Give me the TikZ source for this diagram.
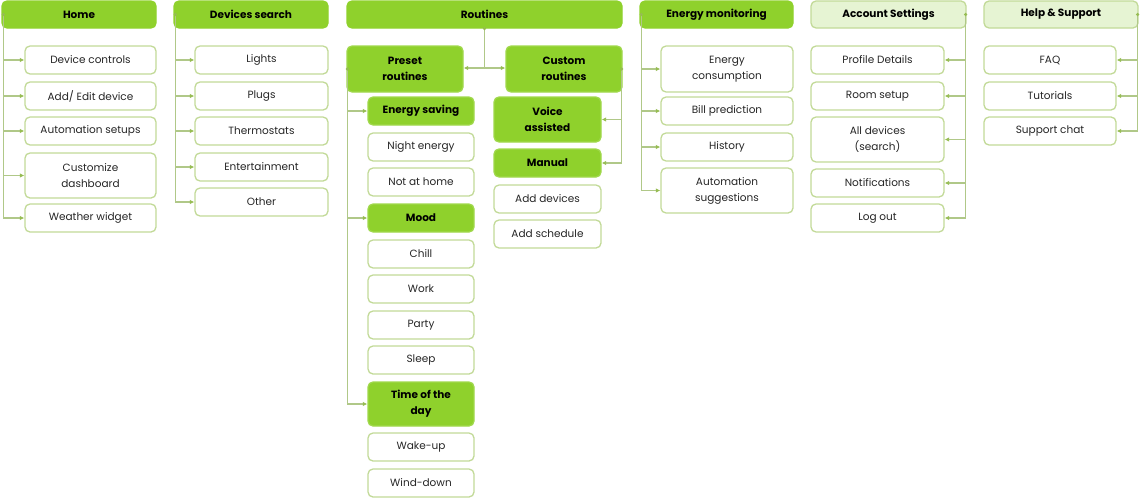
\documentclass[tikz,border=0pt]{standalone}
\usepackage{fontspec}
\setmainfont{Poppins}
\usetikzlibrary{arrows.meta}
\definecolor{lime}{HTML}{8FD12C}
\definecolor{conn}{HTML}{B0C888}
\definecolor{tipc}{HTML}{96BC52}
\definecolor{bord}{HTML}{C2DA98}
\definecolor{lfill}{HTML}{E6F4D3}
\definecolor{txt}{HTML}{262626}
\tikzset{
  base/.style={rounded corners=5pt, inner sep=0pt, align=center, line width=1.3pt, text=txt,
    font=\fontsize{10.5}{16}\selectfont},
  hdr/.style={base, fill=lime, draw=lime, text=black, font=\fontsize{10.5}{16}\selectfont\bfseries, minimum height=27pt},
  lhdr/.style={base, fill=lfill, draw=bord, text=black, font=\fontsize{10.5}{16}\selectfont\bfseries, minimum height=27pt},
  gbox/.style={base, fill=lime, draw=lime!85!white, text=black, font=\fontsize{10.5}{16}\selectfont\bfseries},
  wbox/.style={base, fill=white, draw=bord},
  one/.style={minimum height=28pt},
  two/.style={minimum height=45pt},
  conn/.style={draw=conn, line width=1.4pt},
  arr/.style={conn, -{Latex[length=4.5pt,width=4.5pt,color=tipc]}},
  dot/.style={fill=tipc},
}
\begin{document}
\begin{tikzpicture}[x=1pt,y=-1pt]
\useasboundingbox (0,0) rectangle (1140,498);

% ---------- Home ----------
\node[hdr, minimum width=154pt] (home) at (79,14.5) {Home};
\node[wbox, one, minimum width=131pt] (h1) at (90.5,60) {Device controls};
\node[wbox, one, minimum width=131pt] (h2) at (90.5,96) {Add/ Edit device};
\node[wbox, one, minimum width=131pt] (h3) at (90.5,131) {Automation setups};
\node[wbox, two, minimum width=131pt] (h4) at (90.5,175.5) {Customize\\dashboard};
\node[wbox, one, minimum width=131pt] (h5) at (90.5,218) {Weather widget};
\coordinate (hs) at ([xshift=2pt]home.west);
\foreach \n in {h1,h2,h3,h4,h5} \draw[arr] (hs) |- (\n.west);
\fill[dot] (hs) circle (1.8pt);

% ---------- Devices search ----------
\node[hdr, minimum width=154pt] (dev) at (251,14.5) {Devices search};
\node[wbox, one, minimum width=133pt] (d1) at (261.5,60) {Lights};
\node[wbox, one, minimum width=133pt] (d2) at (261.5,96) {Plugs};
\node[wbox, one, minimum width=133pt] (d3) at (261.5,131) {Thermostats};
\node[wbox, one, minimum width=133pt] (d4) at (261.5,167) {Entertainment};
\node[wbox, one, minimum width=133pt] (d5) at (261.5,202) {Other};
\coordinate (ds) at ([xshift=2pt]dev.west);
\foreach \n in {d1,d2,d3,d4,d5} \draw[arr] (ds) |- (\n.west);
\fill[dot] (ds) circle (1.8pt);

% ---------- Routines ----------
\node[hdr, minimum width=275pt] (rout) at (484.5,14.5) {Routines};
\node[gbox, two, minimum width=116pt, minimum height=46pt] (pre) at (405,69) {Preset\\routines};
\node[gbox, two, minimum width=116pt, minimum height=46pt] (cus) at (564,69) {Custom\\routines};
\coordinate (rj) at (484.5,68);
\draw[conn] (rout.south) -- (rj);
\draw[arr] (rj) -- (pre.east |- rj);
\draw[arr] (rj) -- (cus.west |- rj);
\fill[dot] (rout.south) circle (1.8pt);

% preset children
\node[gbox, one, minimum width=106pt] (p1) at (421,111) {Energy saving};
\node[wbox, one, minimum width=106pt] (p2) at (421,147) {Night energy};
\node[wbox, one, minimum width=106pt] (p3) at (421,182) {Not at home};
\node[gbox, one, minimum width=106pt] (p4) at (421,218) {Mood};
\node[wbox, one, minimum width=106pt] (p5) at (421,254) {Chill};
\node[wbox, one, minimum width=106pt] (p6) at (421,289) {Work};
\node[wbox, one, minimum width=106pt] (p7) at (421,325) {Party};
\node[wbox, one, minimum width=106pt] (p8) at (421,360) {Sleep};
\node[gbox, two, minimum width=106pt, minimum height=44pt] (p9) at (421,404) {Time of the\\day};
\node[wbox, one, minimum width=106pt] (p10) at (421,447) {Wake-up};
\node[wbox, one, minimum width=106pt] (p11) at (421,483) {Wind-down};
\coordinate (ps) at ([xshift=1pt]pre.west);
\foreach \n in {p1,p4,p9} \draw[arr] (ps) |- (\n.west);
\fill[dot] (ps) circle (1.8pt);

% custom children
\node[gbox, two, minimum width=107pt] (c1) at (547.5,119.5) {Voice\\assisted};
\node[gbox, one, minimum width=107pt] (c2) at (547.5,163) {Manual};
\node[wbox, one, minimum width=107pt] (c3) at (547.5,199) {Add devices};
\node[wbox, one, minimum width=107pt] (c4) at (547.5,234) {Add schedule};
\coordinate (cs) at ([xshift=-1pt]cus.east);
\foreach \n in {c1,c2} \draw[arr] (cs) |- (\n.east);
\fill[dot] (cs) circle (1.8pt);

% ---------- Energy monitoring ----------
\node[hdr, minimum width=153pt] (en) at (716.5,14.5) {Energy monitoring};
\node[wbox, two, minimum width=132pt, minimum height=46pt] (e1) at (727,69) {Energy\\consumption};
\node[wbox, one, minimum width=132pt] (e2) at (727,111) {Bill prediction};
\node[wbox, one, minimum width=132pt] (e3) at (727,147) {History};
\node[wbox, two, minimum width=132pt] (e4) at (727,190.5) {Automation\\suggestions};
\coordinate (es) at ([xshift=2pt]en.west);
\foreach \n in {e1,e2,e3,e4} \draw[arr] (es) |- (\n.west);
\fill[dot] (es) circle (1.8pt);

% ---------- Account Settings ----------
\node[lhdr, minimum width=155pt] (acc) at (888.5,14.5) {Account Settings};
\node[wbox, one, minimum width=133pt] (a1) at (877.5,60) {Profile Details};
\node[wbox, one, minimum width=133pt] (a2) at (877.5,96) {Room setup};
\node[wbox, two, minimum width=133pt] (a3) at (877.5,139.5) {All devices\\(search)};
\node[wbox, one, minimum width=133pt] (a4) at (877.5,183) {Notifications};
\node[wbox, one, minimum width=133pt] (a5) at (877.5,218) {Log out};
\coordinate (as) at ([xshift=-1pt]acc.east);
\foreach \n in {a1,a2,a3,a4,a5} \draw[arr] (as) |- (\n.east);
\fill[dot] (as) circle (1.8pt);

% ---------- Help & Support ----------
\node[lhdr, minimum width=154pt] (help) at (1061,14.5) {Help \& Support};
\node[wbox, one, minimum width=132pt] (s1) at (1050,60) {FAQ};
\node[wbox, one, minimum width=132pt] (s2) at (1050,96) {Tutorials};
\node[wbox, one, minimum width=132pt] (s3) at (1050,131) {Support chat};
\coordinate (ss) at ([xshift=-1pt]help.east);
\foreach \n in {s1,s2,s3} \draw[arr] (ss) |- (\n.east);
\fill[dot] (ss) circle (1.8pt);
\end{tikzpicture}
\end{document}
